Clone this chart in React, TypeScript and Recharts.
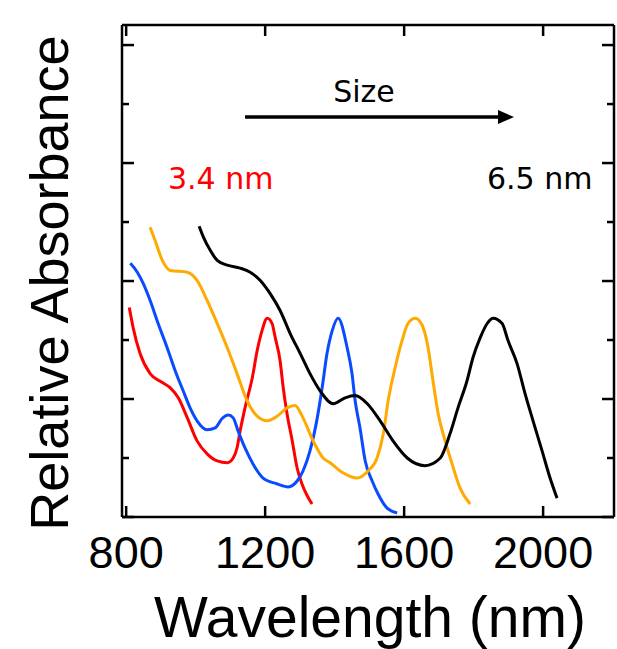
import React from 'react';
import { LineChart, Line, XAxis, YAxis } from 'recharts';

// spectra (wavelength in nm, absorbance in tick units)
const redNm = [809, 820, 840, 869, 904, 927, 950, 976, 1004, 1033, 1062, 1091, 1108, 1119, 1128, 1142, 1163, 1177, 1191, 1206, 1220, 1229, 1243, 1252, 1263, 1278, 1292, 1306, 1321, 1335];
const redAbs = [3.55, 3.21, 2.77, 2.43, 2.28, 2.19, 2.02, 1.68, 1.29, 1.07, 0.95, 0.92, 1.0, 1.17, 1.46, 1.85, 2.36, 2.82, 3.16, 3.37, 3.28, 3.04, 2.65, 2.19, 1.75, 1.29, 0.83, 0.56, 0.36, 0.22];

const blueNm = [812, 832, 849, 869, 892, 918, 941, 964, 984, 1004, 1033, 1056, 1076, 1094, 1108, 1122, 1142, 1165, 1194, 1235, 1266, 1292, 1309, 1329, 1350, 1364, 1378, 1393, 1410, 1436, 1450, 1459, 1473, 1488, 1508, 1525, 1551, 1580];
const blueAbs = [4.3, 4.15, 3.96, 3.67, 3.28, 2.87, 2.48, 2.14, 1.85, 1.63, 1.48, 1.51, 1.67, 1.73, 1.68, 1.46, 1.17, 0.9, 0.66, 0.56, 0.51, 0.61, 0.78, 1.12, 1.68, 2.19, 2.77, 3.16, 3.37, 2.87, 2.43, 1.97, 1.51, 0.95, 0.61, 0.39, 0.15, 0.07];

const orangeNm = [869, 883, 904, 927, 976, 1004, 1033, 1062, 1091, 1119, 1148, 1177, 1206, 1235, 1263, 1286, 1309, 1338, 1367, 1387, 1424, 1465, 1496, 1522, 1540, 1554, 1574, 1594, 1611, 1632, 1652, 1669, 1683, 1698, 1718, 1738, 1761, 1790];
const orangeAbs = [4.91, 4.69, 4.35, 4.18, 4.15, 4.01, 3.67, 3.28, 2.87, 2.43, 1.97, 1.71, 1.63, 1.71, 1.85, 1.89, 1.68, 1.29, 1.0, 0.92, 0.75, 0.66, 0.78, 1.0, 1.41, 1.97, 2.53, 2.99, 3.28, 3.37, 3.25, 2.87, 2.31, 1.75, 1.29, 0.9, 0.49, 0.22];

const blackNm = [1010, 1022, 1042, 1062, 1091, 1128, 1157, 1186, 1214, 1243, 1272, 1301, 1329, 1358, 1396, 1430, 1459, 1494, 1531, 1568, 1609, 1660, 1704, 1732, 1755, 1781, 1798, 1819, 1839, 1856, 1882, 1899, 1925, 1948, 1971, 1997, 2020, 2040];
const blackAbs = [4.93, 4.75, 4.52, 4.35, 4.27, 4.22, 4.15, 4.01, 3.79, 3.5, 3.11, 2.77, 2.43, 2.14, 1.92, 2.02, 2.06, 1.92, 1.63, 1.29, 1.0, 0.87, 1.0, 1.41, 1.85, 2.31, 2.7, 3.04, 3.28, 3.37, 3.28, 2.99, 2.6, 2.09, 1.63, 1.12, 0.66, 0.32];

const xTicks = [800, 1200, 1600, 2000];
const yTicks = [0, 1, 2, 3, 4, 5, 6, 7, 8];

const toRows = (nm: number[], abs: number[]) => nm.map((w, i) => ({ nm: w, abs: abs[i] }));

const series = [
  { name: '3.4 nm', color: '#ff0000', data: toRows(redNm, redAbs) },
  { name: 'blue', color: '#0a4bff', data: toRows(blueNm, blueAbs) },
  { name: 'orange', color: '#ffaa00', data: toRows(orangeNm, orangeAbs) },
  { name: '6.5 nm', color: '#000000', data: toRows(blackNm, blackAbs) },
];

const labelFont = '"Liberation Sans", Arial, sans-serif';
const noteFont = '"DejaVu Sans", sans-serif';

const BottomTick = ({ x, y, payload }: any) => (
  <g>
    <line x1={x} x2={x} y1={y} y2={y - 11} stroke="#000" strokeWidth={2.5} />
    <text x={x} y={y + 51} textAnchor="middle" fontSize={45} fontFamily={labelFont} fill="#000">
      {payload.value}
    </text>
  </g>
);

const TopTick = ({ x, y }: any) => (
  <line x1={x} x2={x} y1={y} y2={y + 11} stroke="#000" strokeWidth={2.5} />
);

const LeftTick = ({ x, y, payload }: any) => {
  const len = payload.value % 2 === 0 ? 12 : 7;
  return <line x1={x} x2={x + len} y1={y} y2={y} stroke="#000" strokeWidth={2.5} />;
};

const RightTick = ({ x, y, payload }: any) => {
  const len = payload.value % 2 === 0 ? 12 : 7;
  return <line x1={x} x2={x - len} y1={y} y2={y} stroke="#000" strokeWidth={2.5} />;
};

const frame = { stroke: '#000', strokeWidth: 2.5 };

export default function App() {
  return (
    <div style={{ position: 'absolute', left: 0, top: 0, width: 617, height: 649, background: '#fff' }}>
      <LineChart width={617} height={649} margin={{ top: 21, right: 1, left: 62, bottom: 62 }}>
        <XAxis
          xAxisId="b"
          type="number"
          dataKey="nm"
          orientation="bottom"
          domain={[788, 2204]}
          ticks={xTicks}
          allowDataOverflow
          height={70}
          tickSize={0}
          tickMargin={0}
          tickLine={false}
          axisLine={frame}
          tick={<BottomTick />}
        />
        <XAxis
          xAxisId="t"
          type="number"
          dataKey="nm"
          orientation="top"
          domain={[788, 2204]}
          ticks={xTicks}
          allowDataOverflow
          height={4}
          tickSize={0}
          tickMargin={0}
          tickLine={false}
          axisLine={frame}
          tick={<TopTick />}
        />
        <YAxis
          yAxisId="l"
          type="number"
          domain={[0, 8.34]}
          ticks={yTicks}
          allowDataOverflow
          width={60}
          tickSize={0}
          tickMargin={0}
          tickLine={false}
          axisLine={frame}
          tick={<LeftTick />}
        />
        <YAxis
          yAxisId="r"
          type="number"
          orientation="right"
          domain={[0, 8.34]}
          ticks={yTicks}
          allowDataOverflow
          width={2}
          tickSize={0}
          tickMargin={0}
          tickLine={false}
          axisLine={frame}
          tick={<RightTick />}
        />
        {series.map((s) => (
          <Line
            key={s.name}
            xAxisId="b"
            yAxisId="l"
            data={s.data}
            dataKey="abs"
            type="monotone"
            stroke={s.color}
            strokeWidth={3}
            strokeLinejoin="round"
            dot={false}
            isAnimationActive={false}
          />
        ))}
        <text x={364} y={102} textAnchor="middle" fontSize={30} fontFamily={noteFont} fill="#000">
          Size
        </text>
        <line x1={245} x2={502} y1={117} y2={117} stroke="#000" strokeWidth={3.5} />
        <polygon points="498,110 514,117 498,124" fill="#000" />
        <text x={168} y={189} fontSize={30} fontFamily={noteFont} fill="#ff0000">
          3.4 nm
        </text>
        <text x={487} y={189} fontSize={30} fontFamily={noteFont} fill="#000">
          6.5 nm
        </text>
        <text x={370} y={637} textAnchor="middle" fontSize={57} fontFamily={labelFont} fill="#000">
          Wavelength (nm)
        </text>
        <text
          transform="translate(68,283) rotate(-90)"
          textAnchor="middle"
          fontSize={54}
          fontFamily={labelFont}
          fill="#000"
        >
          Relative Absorbance
        </text>
      </LineChart>
    </div>
  );
}
